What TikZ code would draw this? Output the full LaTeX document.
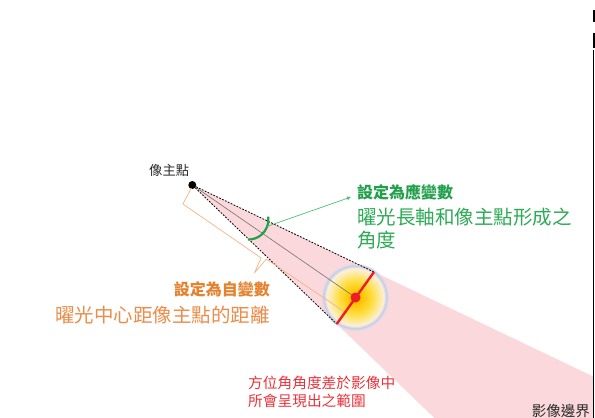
\documentclass[tikz,border=0pt]{standalone}
\usepackage{fontspec}
\newfontfamily\cjk{Noto Sans CJK TC}
\usetikzlibrary{arrows.meta,calc}

\definecolor{wedgepink}{HTML}{FAD8DB}
\definecolor{glowA}{HTML}{F4A000}
\definecolor{glowB}{HTML}{FFC400}
\definecolor{glowC}{HTML}{FFE04A}
\definecolor{glowD}{HTML}{FBEFCF}
\definecolor{ringc}{HTML}{CDCDE3}
\definecolor{axisred}{HTML}{EE1C24}
\definecolor{greenmain}{HTML}{22A04B}
\definecolor{greentext}{HTML}{2DAA55}
\definecolor{greenthin}{HTML}{4CBF78}
\definecolor{orangebold}{HTML}{E5822F}
\definecolor{orangetext}{HTML}{EC8C48}
\definecolor{orangeline}{HTML}{F3B483}
\definecolor{redtext}{HTML}{E8323A}
\definecolor{darktext}{HTML}{2A2A2A}

\pgfdeclareradialshading{flareglow}{\pgfpoint{0bp}{0bp}}{%
  color(0bp)=(glowA); color(5bp)=(glowB); color(14bp)=(glowC);
  color(22bp)=(glowD); color(25bp)=(glowD); color(50bp)=(glowD)}

\tikzset{
  ppdot/.style={circle,fill=black,inner sep=0pt,minimum size=8pt},
  label/.style={inner sep=0pt,font=\cjk},
  dashedge/.style={draw=black,line width=0.8pt,dash pattern=on 1.8pt off 1.4pt},
  axisline/.style={draw=black!55,line width=0.6pt},
  bracket/.style={draw=orangeline,line width=0.7pt,line join=round},
  anglearc/.style={draw=greenmain,line width=2.2pt},
  pointer/.style={draw=greenthin,line width=0.7pt,-{Triangle[length=4pt,width=3.6pt]}},
  majoraxis/.style={draw=axisred,line width=2.4pt},
}

\begin{document}
\begin{tikzpicture}[x=1pt,y=-1pt]
\useasboundingbox (0,0) rectangle (595,418);

% principal point, flare centre and the ends of the flare's major axis
\coordinate (ppc) at (192.3,185);
\coordinate (fc) at (355.5,297.5);
\coordinate (ra) at (374,272);
\coordinate (rb) at (336.7,324);

% range of azimuth difference, clipped by the image border
\fill[wedgepink] (ppc) -- (593,376.4) -- (593,418) -- (434.4,418) -- cycle;

% flare glow
\shade[shading=flareglow] (fc) circle (31.5);
\draw[ringc!70!white,line width=4pt] (fc) circle (31.5);
\draw[ringc,line width=1.4pt] (fc) circle (31.5);

\node[ppdot] (pp) at (ppc) {};

% edges of the wedge and the axis towards the flare centre
\draw[dashedge] (pp) -- (ra);
\draw[dashedge] (pp) -- (rb);
\draw[axisline] (pp) -- (fc);

% distance bracket along the axis
\coordinate (b0) at (191.4,188.0);
\coordinate (b1) at (182.9,204.0);
\coordinate (b2) at (261.1,257.9);
\coordinate (bt) at (254.5,272.8);
\coordinate (b3) at (266.3,259.1);
\coordinate (b4) at (344.3,311.6);
\draw[bracket] (b0) -- (b1) -- (b2) -- (bt) -- (b3) -- (b4);

% angle between major axis and principal point
\coordinate (arcc) at (248.5,219.5);
\draw[anglearc] ($(arcc)+(-8:20)$) arc[start angle=-8,end angle=92,radius=20];
\coordinate (arcpt) at ($(arcc)+(20:20)$);

% major axis of the flare
\draw[majoraxis] (ra) -- (rb);
\node[circle,fill=axisred,inner sep=0pt,minimum size=10pt] (fcdot) at (fc) {};

% labels
\node[label,anchor=west,text=darktext,font=\cjk\fontsize{13.3}{16}\selectfont] (pplabel) at (149,170) {像主點};

\node[label,anchor=west,text=greenmain,font=\cjk\bfseries\fontsize{16}{19}\selectfont] (depvar) at (357,192.5) {設定為應變數};
\node[label,anchor=north west,align=left,text=greentext,font=\cjk\fontsize{19.5}{23}\selectfont] (depdesc) at (357,208) {曜光長軸和像主點形成之\\角度};
\coordinate (ptip) at (351,197);
\draw[pointer] (arcpt) -- (ptip);

\node[label,anchor=east,text=orangebold,font=\cjk\bfseries\fontsize{16}{19}\selectfont] (indvar) at (270,289) {設定為自變數};
\node[label,anchor=east,text=orangetext,font=\cjk\fontsize{19.5}{23}\selectfont] (inddesc) at (270,315) {曜光中心距像主點的距離};

\node[label,anchor=north west,align=left,text=redtext,font=\cjk\fontsize{14.7}{18}\selectfont] (rangelabel) at (248,376) {方位角角度差於影像中\\所會呈現出之範圍};

\node[label,anchor=east,text=darktext,font=\cjk\fontsize{14.5}{17}\selectfont] (borderlabel) at (590,411) {影像邊界};

% image border
\draw[black,line width=1.6pt] (593.5,50) -- (593.5,418);
\fill[black] (592.7,10) rectangle (595,22);
\fill[black] (592.7,33) rectangle (595,48);
\end{tikzpicture}
\end{document}
